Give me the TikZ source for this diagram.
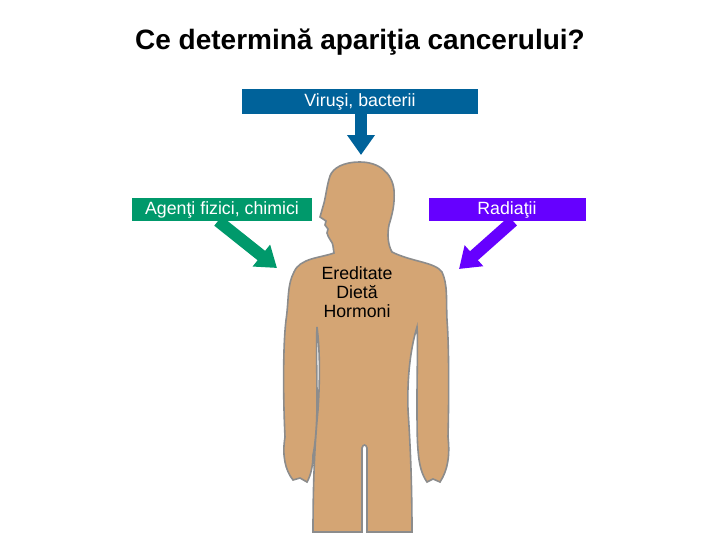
\documentclass[tikz,border=0pt]{standalone}
\usepackage{fontspec}
\setmainfont{Liberation Sans}
\usetikzlibrary{arrows.meta}
\definecolor{cblue}{HTML}{00629A}
\definecolor{cgreen}{HTML}{00996B}
\definecolor{cpurp}{HTML}{6600FF}
\definecolor{skin}{HTML}{D4A574}
\begin{document}
\begin{tikzpicture}[x=0.75pt,y=-0.75pt,
  lbl/.style={text=white,font=\fontsize{13.3}{15}\selectfont,inner sep=0pt},
  fat/.style={line width=9pt,-{Triangle[width=20pt,length=15pt]}}]
\useasboundingbox (0,0) rectangle (720,540);
\node[font=\bfseries\fontsize{21}{24}\selectfont] (t) at (360,42) {Ce determină apariţia cancerului?};
% body
\filldraw[fill=skin,draw=gray!90,line width=1.2pt]
 (360,162) .. controls (343,162) and (333,168) .. (330,176)
 .. controls (327,185) and (326,195) .. (324,203)
 -- (320,217) -- (326,221) -- (325,225) -- (328,229) -- (327,233)
 .. controls (329,240) and (333,242) .. (333,246) -- (334,253)
 .. controls (320,258) and (300,258) .. (294,272)
 .. controls (287,285) and (289,300) .. (286,320)
 .. controls (283,345) and (283,395) .. (285,437)
 .. controls (282,455) and (285,470) .. (293,480) -- (300,478) -- (307,482)
 .. controls (311,475) and (313,465) .. (313,455)
 .. controls (316,440) and (317,420) .. (317,400)
 .. controls (317,370) and (316,345) .. (317,327)
 .. controls (320,350) and (320,380) .. (318,410)
 .. controls (315,440) and (313,480) .. (313,532)
 -- (362,532) -- (362,448) .. controls (363,444) and (366,444) .. (367,448)
 -- (367,532) -- (412,532)
 .. controls (412,480) and (410,440) .. (408,410)
 .. controls (407,380) and (410,350) .. (417,327)
 .. controls (418,345) and (417,370) .. (417,400)
 .. controls (417,420) and (417,440) .. (418,450)
 .. controls (419,465) and (422,475) .. (427,482) -- (433,479) -- (440,482)
 .. controls (448,470) and (450,455) .. (448,437)
 .. controls (449,395) and (449,345) .. (447,320)
 .. controls (446,300) and (448,285) .. (442,272)
 .. controls (435,262) and (412,262) .. (392,252)
 .. controls (388,245) and (387,235) .. (389,225)
 .. controls (392,215) and (395,205) .. (394,190)
 .. controls (392,172) and (378,162) .. (360,162) -- cycle;
\node[align=center,font=\fontsize{13.3}{14.3}\selectfont,anchor=north] (e) at (357,262) {Ereditate\\Dietă\\Hormoni};
% boxes
\fill[cblue] (242,89) rectangle (478,114);
\node[lbl] (v) at (360,101.5) {Viruşi, bacterii};
\fill[cgreen] (132,198) rectangle (312,221);
\node[lbl] (a) at (222,209.5) {Agenţi fizici, chimici};
\fill[cpurp] (429,198) rectangle (586,221);
\node[lbl] (r) at (507,209.5) {Radiaţii};
\coordinate (vt) at (361,155);
\coordinate (at) at (277,268);
\coordinate (rt) at (459,269);
\coordinate (vs) at (361,114);
\coordinate (as) at (218,221);
\coordinate (rs) at (513,221);
\draw[fat,cblue] (vs) -- (vt);
\draw[fat,cgreen] (as) -- (at);
\draw[fat,cpurp] (rs) -- (rt);
\end{tikzpicture}
\end{document}
